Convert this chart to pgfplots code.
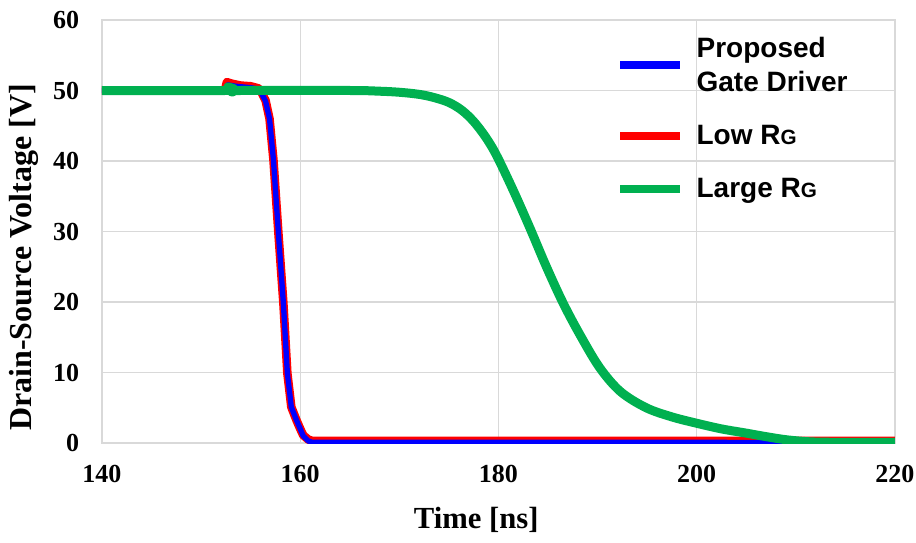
\documentclass[border=0pt]{standalone}
\usepackage{pgfplots}
\pgfplotsset{compat=1.18}
\usepackage{fontspec}
\setmainfont{Liberation Serif}
\newfontfamily\arialfont{Liberation Sans}
\definecolor{gridgray}{HTML}{D9D9D9}
\definecolor{pblue}{HTML}{0000FF}
\definecolor{pred}{HTML}{FF0000}
\definecolor{pgreen}{HTML}{00B050}
\newcommand{\RG}{R{\fontsize{15.5}{15.5}\selectfont G}}
\begin{document}
\begin{tikzpicture}
\begin{axis}[
  scale only axis, width=594.75pt, height=317.25pt,
  xmin=140, xmax=220, ymin=0, ymax=60,
  xtick={140,160,...,220}, ytick={0,10,...,60},
  grid=major, major grid style={gridgray, line width=1.1pt},
  axis line style={gridgray, line width=1.1pt},
  major tick length=0pt,
  tick label style={font=\fontsize{19.5}{22}\selectfont\bfseries},
  /pgf/number format/assume math mode=true,
  xticklabel style={inner sep=0pt, anchor=north, yshift=-16.5pt},
  yticklabel style={inner sep=0pt, anchor=east, xshift=-17pt},
  xlabel={Time [ns]}, ylabel={Drain-Source Voltage [V]},
  xlabel style={font=\fontsize{23}{26}\selectfont\bfseries, at={(axis description cs:0.472,-0.201)}, anchor=base},
  ylabel style={font=\fontsize{24}{28}\selectfont\bfseries, at={(axis description cs:-0.0984,0.4385)}, anchor=center},
  legend style={draw=none, fill=none, at={(axis description cs:0.648,0.967)}, anchor=north west,
    font=\arialfont\fontsize{21}{25.5}\selectfont\bfseries, cells={align=left, anchor=west},
    row sep=20pt, inner sep=0pt},
  legend image code/.code={\draw[#1, line width=6pt, line cap=butt] (0pt,0pt) -- (45pt,0pt); \path (52pt,0pt);},
  every axis plot/.append style={line join=round, line cap=round},
]
\addplot[pred, line width=6.4pt, forget plot] coordinates {
(140,50) (152.4,50) (152.6,51.2) (153,51.0) (154,50.7) (155,50.6) (155.8,50.3)
(156.1,49.7) (156.5,48.6) (156.9,46) (157.3,40.1) (157.8,29.7) (158.3,19.8)
(158.7,9.9) (159.1,5.1) (159.6,3.3) (160.0,2.0) (160.3,1.1) (160.8,0.5) (161.2,0.3)
(180,0.3) (200,0.3) (220,0.3)};
\addplot[pblue, line width=4pt] coordinates {
(140,50) (152.5,50) (152.7,50.8) (153.5,50.6) (155,50.4) (155.8,50.2)
(156.1,49.6) (156.5,48.5) (156.9,46) (157.3,40.1) (157.8,29.7) (158.3,19.8)
(158.7,9.9) (159.1,5.1) (159.6,3.3) (160.0,2.0) (160.3,1.0) (160.8,0.3) (161.2,0.1)
(180,0.1) (200,0.1) (209,0.05) (220,0.05)};
\addlegendentry{Proposed\\Gate Driver}
\addlegendimage{pred, line width=6pt}
\addlegendentry{Low \RG}
\addplot[pgreen, line width=6.75pt, smooth, tension=0.55] coordinates {
(140,50) (152.4,50) (152.7,50.5) (153.2,49.8) (154,50) (165,50) (168,49.9)
(170,49.75) (172,49.45) (173.5,49.0) (175,48.3) (176.3,47.2) (177.5,45.6) (178.7,43.4)
(179.8,40.8) (181.5,35.8) (183.2,30.4) (184.8,25.1) (186.5,19.9) (188.2,15.4)
(190.2,10.7) (192.3,7.3) (194.9,5.0) (197.5,3.7) (200,2.8) (202.5,2.0)
(205,1.4) (207,0.9) (209.1,0.45) (211.7,0.15) (215,0.1) (220,0.1)};
\addlegendentry{Large \RG}
\end{axis}
\pgfresetboundingbox
\path (current axis.south west) ++(-76.5pt,-74.25pt) rectangle ++(687pt,406.5pt);
\end{tikzpicture}
\end{document}
